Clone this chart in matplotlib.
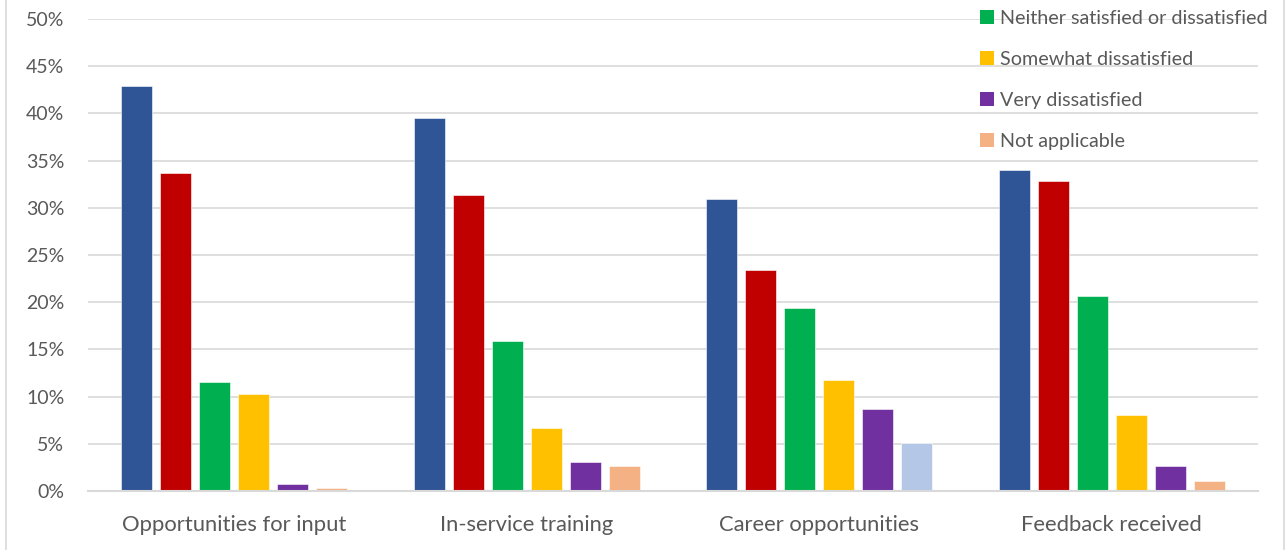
import numpy as np
import matplotlib.pyplot as plt
from matplotlib.patches import Patch
from matplotlib.lines import Line2D

# --- datos ---
categorias = ['Opportunities for input', 'In-service training',
              'Career opportunities', 'Feedback received']
respuestas = ['Very satisfied', 'Somewhat satisfied',
              'Neither satisfied or dissatisfied', 'Somewhat dissatisfied',
              'Very dissatisfied', 'Not applicable']

very_satisfied = [42.9, 39.5, 30.9, 34.0]
somewhat_satisfied = [33.7, 31.4, 23.4, 32.8]
neither = [11.5, 15.9, 19.4, 20.7]
somewhat_dissatisfied = [10.3, 6.7, 11.8, 8.0]
very_dissatisfied = [0.7, 3.1, 8.7, 2.7]
not_applicable = [0.3, 2.7, 5.1, 1.1]

series = [very_satisfied, somewhat_satisfied, neither,
          somewhat_dissatisfied, very_dissatisfied, not_applicable]

colores = ['#2F5597', '#C00000', '#00B050', '#FFC000', '#7030A0', '#F4B183']
color_gris = '#595959'

plt.rcParams['font.family'] = ['Lato', 'DejaVu Sans']

fig = plt.figure(figsize=(12.88, 5.5), dpi=100)
ax = fig.add_axes([88/1288, 59/550, 1170/1288, 472/550])

x = np.arange(len(categorias))
slot = 0.8 / len(series)
for i, (valores, color) in enumerate(zip(series, colores)):
    pos = x - 0.4 + slot * (i + 0.5)
    cols = [color] * len(valores)
    if i == len(series) - 1:
        cols[2] = '#B4C7E7'  # punto con color distinto en Career opportunities
    ax.bar(pos, valores, width=slot * 0.79, color=cols,
           edgecolor='white', linewidth=0.4, zorder=3)

ax.set_xlim(-0.5, len(categorias) - 0.5)
ax.set_ylim(0, 50)
ax.set_yticks(np.arange(0, 51, 5))
ax.set_yticklabels([f'{v}%' for v in range(0, 51, 5)])
ax.set_xticks(x)
ax.set_xticklabels(categorias)
ax.tick_params(axis='y', length=0, pad=17, labelsize=14, labelcolor=color_gris)
ax.tick_params(axis='x', length=0, pad=17, labelsize=15.8, labelcolor=color_gris)
ax.grid(axis='y', color='#D9D9D9', linewidth=1.2, zorder=0)
for s in ['top', 'right', 'left']:
    ax.spines[s].set_visible(False)
ax.spines['bottom'].set_color('#D9D9D9')
ax.spines['bottom'].set_linewidth(1.5)
ax.spines['bottom'].set_zorder(4)

# leyenda: solo las cuatro últimas respuestas caben dentro del lienzo
manejadores = [Patch(facecolor=c, edgecolor='none') for c in colores]
fig.legend(manejadores[2:], respuestas[2:], loc='lower left',
           bbox_to_anchor=(980/1288, 1 - 150/550), frameon=False,
           fontsize=14.2, labelcolor=color_gris, handlelength=0.7,
           handleheight=0.7, handletextpad=0.3, labelspacing=1.22,
           borderpad=0, borderaxespad=0)

# borde del gráfico
fig.add_artist(Line2D([6/1288, 6/1288], [0, 1], transform=fig.transFigure,
                      color='#D9D9D9', linewidth=1.2))
fig.add_artist(Line2D([1284/1288, 1284/1288], [0, 1], transform=fig.transFigure,
                      color='#D9D9D9', linewidth=1.2))

fig.savefig('out.png', dpi=100)
